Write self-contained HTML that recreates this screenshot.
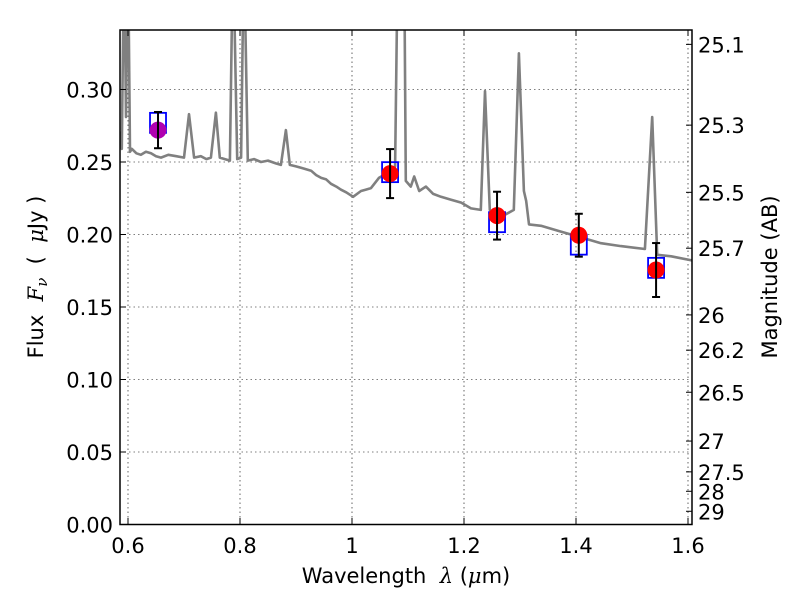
<!DOCTYPE html>
<html><head><meta charset="utf-8"><style>
html,body{margin:0;padding:0;background:#fff;}
svg{display:block;font-family:"DejaVu Sans","Liberation Sans",sans-serif;}
</style></head><body>
<svg id="chart" width="800" height="600" viewBox="0 0 800 600">
<rect width="800" height="600" fill="#fff"/>
<defs><clipPath id="clip"><rect x="120" y="30" width="572" height="494.5"/></clipPath></defs>
<g id="grid"></g>
<g id="marks" clip-path="url(#clip)"></g>
<rect x="120" y="30" width="572" height="494.5" fill="none" stroke="#000" stroke-width="1.5"/>
<g id="axes"></g>
<text x="406" y="583" font-size="21" text-anchor="middle">Wavelength&#160;&#160;<tspan font-style="italic" font-family="DejaVu Serif, serif">λ</tspan> (<tspan font-style="italic" font-family="DejaVu Serif, serif">μ</tspan>m)</text>
<text transform="translate(43,277) rotate(-90)" font-size="21" text-anchor="middle">Flux&#160;&#160;<tspan font-style="italic" font-family="DejaVu Serif, serif">F<tspan font-size="15" dy="4">ν</tspan></tspan><tspan dy="-4">&#160;&#160;(&#160;&#160;</tspan><tspan font-style="italic" font-family="DejaVu Serif, serif">μ</tspan>Jy )</text>
<text transform="translate(777,277) rotate(-90)" font-size="21" text-anchor="middle">Magnitude (AB)</text>
</svg>
<script>
const xTicks = [0.6, 0.8, 1.0, 1.2, 1.4, 1.6];
const xTickLabels = ["0.6", "0.8", "1", "1.2", "1.4", "1.6"];
const yTicks = [0, 0.05, 0.10, 0.15, 0.20, 0.25, 0.30];
const yTickLabels = ["0.00", "0.05", "0.10", "0.15", "0.20", "0.25", "0.30"];
const magTicks = [25.1, 25.3, 25.5, 25.7, 26, 26.2, 26.5, 27, 27.5, 28, 29];
const magTickLabels = ["25.1", "25.3", "25.5", "25.7", "26", "26.2", "26.5", "27", "27.5", "28", "29"];
const specWave = [0.5875,0.589,0.593,0.5964,0.600,0.6036,0.607,0.615,0.623,0.632,0.641,0.650,0.659,0.672,0.686,0.700,0.709,0.718,0.730,0.740,0.748,0.757,0.764,0.782,0.7875,0.795,0.802,0.807,0.814,0.825,0.8375,0.850,0.864,0.873,0.882,0.889,0.900,0.909,0.918,0.927,0.936,0.945,0.954,0.9625,0.972,0.980,0.990,1.002,1.016,1.025,1.034,1.048,1.061,1.077,1.082,1.093,1.096,1.105,1.111,1.120,1.132,1.145,1.159,1.177,1.195,1.2125,1.230,1.2375,1.246,1.257,1.275,1.289,1.298,1.307,1.311,1.316,1.3375,1.373,1.409,1.4446,1.480,1.523,1.536,1.545,1.57,1.609];
const specFlux = [0.271,0.259,0.40,0.281,0.40,0.257,0.259,0.256,0.255,0.257,0.256,0.254,0.253,0.255,0.254,0.253,0.283,0.253,0.254,0.252,0.253,0.284,0.253,0.251,0.40,0.252,0.253,0.40,0.251,0.252,0.250,0.251,0.249,0.248,0.272,0.248,0.247,0.246,0.245,0.244,0.241,0.239,0.238,0.235,0.233,0.231,0.229,0.226,0.230,0.231,0.232,0.239,0.242,0.247,0.40,0.40,0.237,0.233,0.240,0.230,0.233,0.228,0.226,0.224,0.222,0.218,0.217,0.299,0.217,0.215,0.214,0.217,0.325,0.230,0.223,0.207,0.206,0.202,0.198,0.194,0.192,0.190,0.281,0.186,0.185,0.182];
const photWave = [0.6536, 1.068, 1.259, 1.405, 1.543];
const photFlux = [0.272, 0.242, 0.213, 0.1995, 0.1755];
const photErr = [0.0125, 0.0169, 0.0165, 0.0148, 0.0186];
const modelFlux = [0.277, 0.243, 0.2085, 0.193, 0.177];
const photColors = ["#b000b0", "#ff0000", "#ff0000", "#ff0000", "#ff0000"];

const NS = "http://www.w3.org/2000/svg";
const X = l => 128 + (l - 0.6) * 560;
const Y = f => 524.5 - f * 1450;
const magToFlux = m => Math.pow(10, (23.9 - m) / 2.5);
function mk(tag, attrs, parent) {
  const e = document.createElementNS(NS, tag);
  for (const k in attrs) e.setAttribute(k, attrs[k]);
  parent.appendChild(e);
  return e;
}
const grid = document.getElementById('grid');
const axes = document.getElementById('axes');
const marks = document.getElementById('marks');

xTicks.forEach((t, i) => {
  const gl = mk('line', {x1: X(t), x2: X(t), y1: 30, y2: 524.5, stroke: '#000', 'stroke-width': 0.6, 'stroke-dasharray': '1.5,3'}, grid);
  
  
  mk('line', {x1: X(t), x2: X(t), y1: 524.5, y2: 518, stroke: '#000'}, axes);
  mk('line', {x1: X(t), x2: X(t), y1: 30, y2: 36, stroke: '#000'}, axes);
  const tx = mk('text', {x: X(t), y: 553, 'font-size': 21, 'text-anchor': 'middle'}, axes);
  tx.textContent = xTickLabels[i];
  
  
});
yTicks.forEach((t, i) => {
  if (t > 0) {
    const gl = mk('line', {x1: 120, x2: 692, y1: Y(t), y2: Y(t), stroke: '#000', 'stroke-width': 0.6, 'stroke-dasharray': '1.5,3'}, grid);
    
    
  }
  mk('line', {x1: 120, x2: 126, y1: Y(t), y2: Y(t), stroke: '#000'}, axes);
  const tx = mk('text', {x: 113, y: Y(t) + 8, 'font-size': 21, 'text-anchor': 'end'}, axes);
  tx.textContent = yTickLabels[i];
  
  
});
magTicks.forEach((m, i) => {
  const y = Y(magToFlux(m));
  mk('line', {x1: 692, x2: 686, y1: y, y2: y, stroke: '#000'}, axes);
  const tx = mk('text', {x: 698, y: y + 8, 'font-size': 21}, axes);
  tx.textContent = magTickLabels[i];
  
  
});

const pts = specWave.map((w, i) => X(w).toFixed(1) + ',' + Y(specFlux[i]).toFixed(1)).join(' ');
const sp = mk('polyline', {points: pts, fill: 'none', stroke: '#808080', 'stroke-width': 2.6, 'stroke-linejoin': 'round'}, marks);



photWave.forEach((w, i) => {
  const x = X(w);
  const bx = mk('rect', {x: x - 8, y: Y(modelFlux[i]) - 10, width: 16, height: 20, fill: 'none', stroke: '#0000ff', 'stroke-width': 1.8}, marks);
  
  
  const c = mk('circle', {cx: x, cy: Y(photFlux[i]), r: 8.5, fill: photColors[i]}, marks);
  
  
  const y1 = Y(photFlux[i] + photErr[i]), y2 = Y(photFlux[i] - photErr[i]);
  const g = mk('g', {stroke: '#000', 'stroke-width': 2}, marks);
  
  
  mk('line', {x1: x, x2: x, y1: y1, y2: y2}, g);
  mk('line', {x1: x - 4, x2: x + 4, y1: y1, y2: y1}, g);
  mk('line', {x1: x - 4, x2: x + 4, y1: y2, y2: y2}, g);
});
</script>
</body></html>
